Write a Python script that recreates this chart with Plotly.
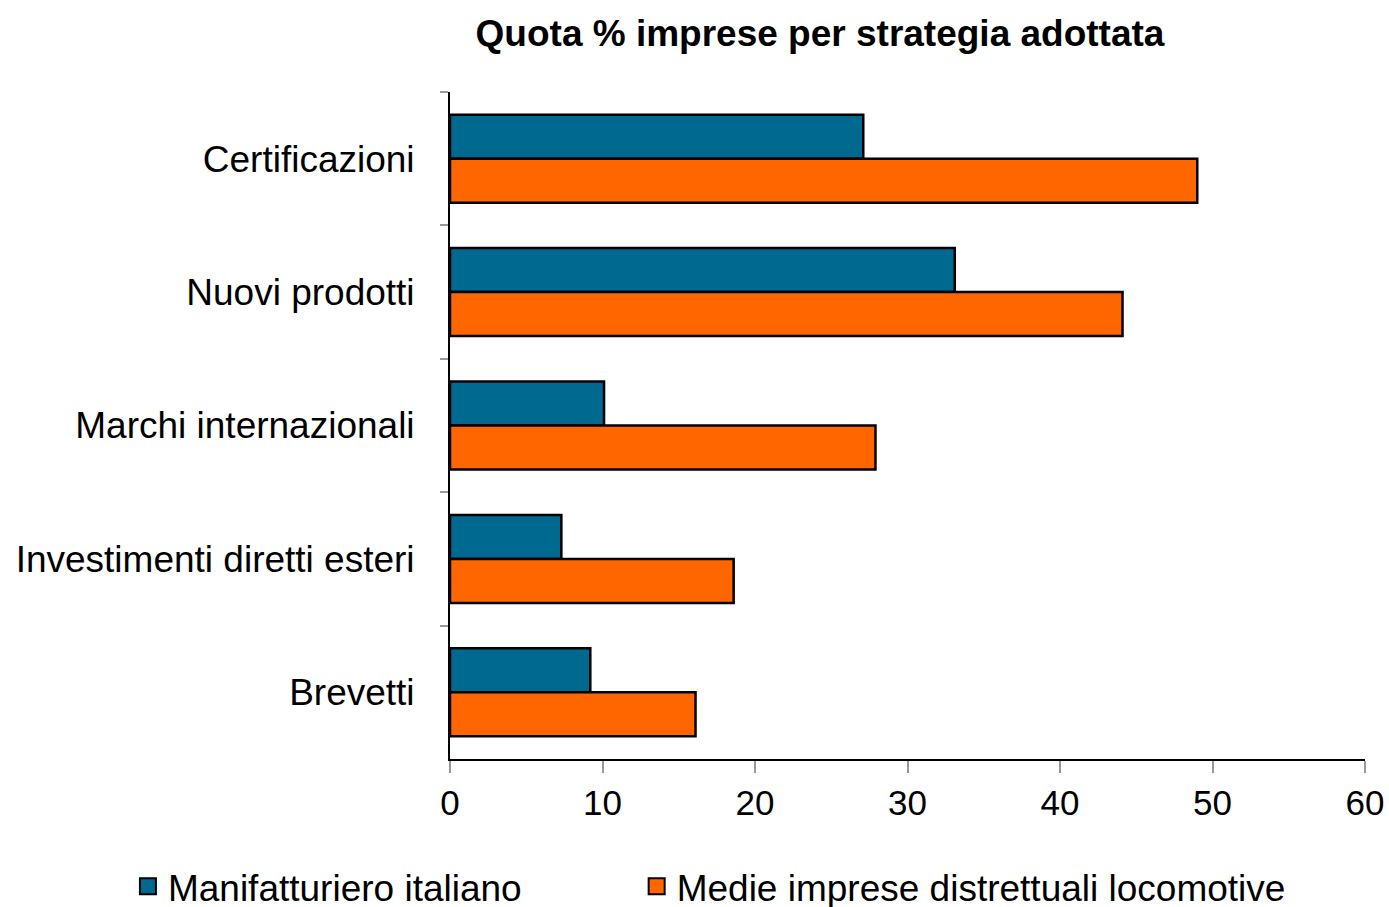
import plotly.graph_objects as go

categories = ["Certificazioni", "Nuovi prodotti", "Marchi internazionali",
              "Investimenti diretti esteri", "Brevetti"]
manifatturiero = [27.1, 33.1, 10.1, 7.3, 9.2]
medie_imprese = [49.0, 44.1, 27.9, 18.6, 16.1]
series_names = ["Manifatturiero italiano", "Medie imprese distrettuali locomotive"]
series_colors = ["#006990", "#FF6600"]
x_ticks = [0, 10, 20, 30, 40, 50, 60]

FONT = "Liberation Sans, Arial, sans-serif"

fig = go.Figure()
for name, vals, color in zip(series_names, [manifatturiero, medie_imprese], series_colors):
    fig.add_trace(go.Bar(
        y=categories, x=vals, orientation="h", name=name, showlegend=False,
        marker=dict(color=color, line=dict(color="#000000", width=2.5)),
    ))

# legend entries with larger square swatches, one legend box each
for i, (name, color) in enumerate(zip(series_names, series_colors)):
    fig.add_trace(go.Scatter(
        x=[None], y=[None], mode="markers", name=name,
        legend="legend" if i == 0 else "legend2",
        marker=dict(symbol="square", size=19, color=color,
                    line=dict(color="#000000", width=2)),
    ))

legend_style = dict(orientation="h", xanchor="left", y=-0.145, yanchor="top",
                    font=dict(size=37), bgcolor="rgba(0,0,0,0)")

fig.update_layout(
    width=1389, height=907,
    paper_bgcolor="white", plot_bgcolor="white",
    font=dict(family=FONT, size=37, color="#000000"),
    title=dict(text="<b>Quota % imprese per strategia adottata</b>",
               x=820 / 1389, xanchor="center", y=1 - 33 / 907, yanchor="middle",
               font=dict(size=37)),
    barmode="group", bargap=0.34, bargroupgap=0,
    margin=dict(l=450, r=24, t=92, b=148, autoexpand=False),
    showlegend=True,
    legend=dict(x=-0.352, **legend_style),
    legend2=dict(x=0.204, **legend_style),
    xaxis=dict(range=[0, 60], tickvals=x_ticks, showgrid=False, zeroline=False,
               showline=True, linecolor="#000000", linewidth=2,
               ticks="outside", ticklen=12, tickcolor="#999999", tickwidth=1.5,
               tickfont=dict(size=35), fixedrange=True),
    yaxis=dict(autorange="reversed", showgrid=False, showline=True,
               linecolor="#000000", linewidth=2,
               ticks="outside", tickson="boundaries", ticklen=8,
               tickcolor="#999999", tickwidth=1.5, ticklabelstandoff=26,
               tickfont=dict(size=37)),
)

fig.write_html(
    "out.html",
    config={"displayModeBar": False},
    post_script="document.body.style.margin='0';document.body.style.overflow='hidden';",
)
